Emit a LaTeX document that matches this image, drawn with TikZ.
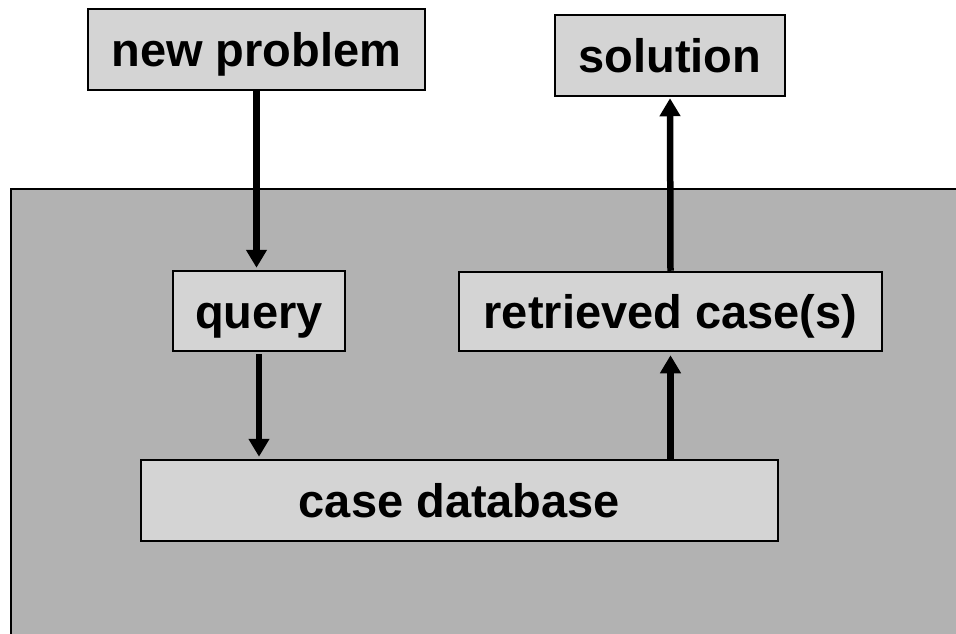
\documentclass[tikz,border=0pt]{standalone}
\usepackage{fontspec}
\setmainfont{Liberation Sans}
\usetikzlibrary{arrows.meta}
\definecolor{boxgray}{HTML}{D4D4D4}
\definecolor{bggray}{HTML}{B2B2B2}
\tikzset{
  databox/.style={draw=black, line width=2.5pt, fill=boxgray, inner sep=0pt,
    text height=34pt, text depth=0pt,
    font=\fontsize{47}{50}\selectfont\bfseries},
  arr/.style={line width=6.5pt, -{Triangle[width=20pt 0, length=18pt 0]}}
}
\begin{document}
\begin{tikzpicture}[x=1pt,y=-1pt]
\clip (0,0) rectangle (956,634);
\fill[white] (0,0) rectangle (956,634);
\draw[line width=2.5pt, fill=bggray] (11,189) rectangle (970,650);
\node[databox, minimum width=337pt, minimum height=81pt] (np) at (256.5,49.5) {new problem};
\node[databox, minimum width=230pt, minimum height=81pt] (sol) at (670,55.5) {solution};
\node[databox, minimum width=172pt, minimum height=80pt] (q) at (259,311) {query};
\node[databox, minimum width=423pt, minimum height=79pt] (ret) at (670.5,311.5) {retrieved case(s)};
\node[databox, minimum width=637pt, minimum height=81pt] (cdb) at (459.5,500.5) {case database};
\draw[arr, shorten >=2pt] (np.south) -- (np.south |- q.north);
\draw[arr, shorten <=2pt, shorten >=2pt] (q.south) -- (q.south |- cdb.north);
\draw[arr, shorten >=3pt] (ret.south |- cdb.north) -- (ret.south);
\draw[arr, shorten >=1pt] (ret.north) -- (sol.south);
\end{tikzpicture}
\end{document}
